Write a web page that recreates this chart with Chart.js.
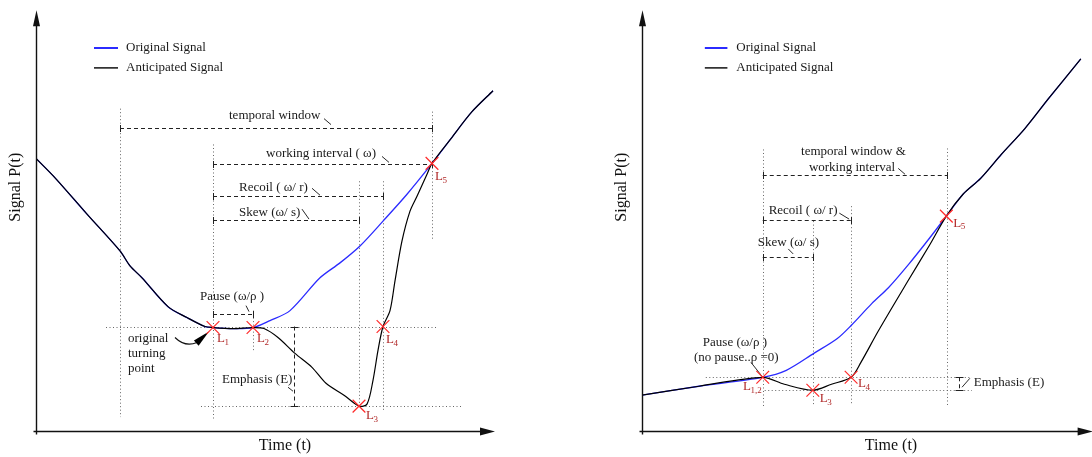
<!DOCTYPE html>
<html><head><meta charset="utf-8">
<script src="https://cdn.jsdelivr.net/npm/chart.js@4.4.0/dist/chart.umd.min.js"></script>
<style>
html,body{margin:0;padding:0;background:#fff;}
#wrap{display:flex;width:1092px;height:457px;}
.box{position:relative;width:546px;height:457px;}
</style></head><body>
<div id="wrap"><div class="box"><canvas id="c1"></canvas></div><div class="box"><canvas id="c2"></canvas></div></div>
<script>
// ---------- LEFT DIAGRAM DATA (time t, signal P) ----------
const leftOrigT = [0,1.95,5.1,8.4,9.4,10.6,13.2,15.1,16.9,17.7,19.7,21.7,23.4,25.4,28.4,30.4,32.4,34.7,37.1,39.6,41.5,43.6,45.7];
const leftOrigP = [27.4,25.4,21.8,18.1,16.6,15.4,12.5,11.4,10.5,10.4,10.3,10.4,11.1,12.1,15.4,16.9,18.6,21.1,23.8,26.9,29.4,32.1,34.2];
const leftAntT  = [0,1.95,5.1,8.4,9.4,10.6,13.2,15.1,16.9,17.7,19.7,21.7,22.8,24.2,25.9,27.6,29.0,30.8,32.3,33.1,33.7,34.2,34.7,35.4,35.9,36.6,37.4,38.1,39.1,39.6,41.5,43.6,45.7];
const leftAntP  = [27.4,25.4,21.8,18.1,16.6,15.4,12.5,11.4,10.5,10.4,10.3,10.4,10.3,9.4,7.8,6.4,4.8,3.6,2.5,2.7,5.1,8.1,10.5,12.1,15.1,19.1,22.1,23.6,25.8,26.9,29.4,32.1,34.2];
const leftMarkT = [17.7,21.7,32.3,34.7,39.6];
const leftMarkP = [10.4,10.4,2.5,10.5,26.9];
const leftMarkNames = ['1','2','3','4','5'];
const leftMarkLabelT = [18.1,22.1,33.0,35.0,39.9];
const leftMarkLabelP = [9.3,9.3,1.5,9.2,25.6];

// ---------- RIGHT DIAGRAM DATA ----------
const rightOrigT = [0,5.8,12.3,14.7,17.5,19.9,21.3,23.4,25.1,27.2,29.3,31.0,32.7,34.5,36.6,39.0,41.4,44.7];
const rightOrigP = [3.6,4.5,5.4,6.1,7.8,9.3,10.6,12.8,14.4,16.8,19.4,21.6,23.8,25.4,27.8,30.4,33.4,37.4];
const rightAntT  = [0,5.8,12.3,14.5,17.4,19.3,21.3,22.3,24.1,27.1,29.3,31.0,32.7,34.5,36.6,39.0,41.4,44.7];
const rightAntP  = [3.6,4.5,5.4,4.7,4.1,4.7,5.4,6.9,10.1,15.1,18.7,21.6,23.8,25.4,27.8,30.4,33.4,37.4];
const rightMarkT = [12.3,17.4,21.3,31.0];
const rightMarkP = [5.4,4.1,5.4,21.6];
const rightMarkNames = ['1,2','3','4','5'];
const rightMarkLabelT = [10.3,18.1,22.0,31.7];
const rightMarkLabelP = [4.5,3.3,4.8,20.9];

const legendLabels = ['Original Signal','Anticipated Signal'];

// annotation geometry (data units)
const leftAnn = {
  xMax:45.9, yMax:42.3, axisEnd:[45.9,42.3],
  legend:[5.8,8.2,9.0,38.5,36.5],
  vDots:[[8.4,32.4,1.4],[17.7,28.8,1.1],[21.7,12.1,8.1],[32.3,25.1,2.4],[34.7,25.1,2.1],[39.6,32.1,19.3]],
  hDots:[[10.5,7.0,40.1],[2.5,16.5,42.7]],
  spans:[[30.5,8.4,39.6],[26.8,17.7,39.6],[23.6,17.7,34.7],[21.2,17.7,32.3],[11.8,17.7,21.7]],
  vSpans:[[25.8,10.5,2.5]],
  leaders:[[28.8,31.4,29.5,30.8],[34.6,27.6,35.3,27.0],[27.6,24.4,28.4,23.7],[26.6,22.3,27.3,21.3],[21.0,12.6,21.3,12.0],[25.2,4.4,25.7,4.0]],
  notes:[['temporal window',19.3,31.7],['working interval ( ω)',23.0,27.9],['Recoil ( ω/ r)',20.3,24.5],['Skew (ω/ s)',20.3,22.0],['Pause (ω/ρ )',16.4,13.5],['Emphasis (E)',18.6,5.2],['original',9.2,9.3],['turning',9.2,7.8],['point',9.2,6.3]],
  arrow:[13.9,9.4,14.9,8.4,16.1,8.9,17.3,10.0]
};
const rightAnn = {
  xMax:44.8, yMax:42.3, axisEnd:[45.9,42.3],
  legend:[6.4,8.7,9.6,38.5,36.5],
  vDots:[[12.3,28.3,2.4],[17.4,21.1,2.6],[21.3,22.6,2.6],[31.1,28.4,2.4]],
  hDots:[[5.4,6.5,33.6],[4.1,12.5,33.6]],
  spans:[[25.7,12.3,31.1],[21.2,12.3,21.3],[17.5,12.3,17.4]],
  vSpans:[[32.3,5.4,4.1]],
  leaders:[[26.1,26.4,26.8,25.8],[20.1,21.9,21.1,21.3],[14.9,18.3,15.4,17.8],[32.6,4.4,33.4,5.3],[11.1,6.9,12.3,5.4]],
  notes:[['temporal window &',16.2,28.1],['working interval',17.0,26.5],['Recoil ( ω/ r)',12.9,22.2],['Skew (ω/ s)',11.8,18.9],['Pause (ω/ρ )',6.2,8.9],['(no pause..ρ =0)',5.3,7.4],['Emphasis (E)',33.8,4.9]],
  arrow:null
};

const SERIF = '"Liberation Serif","DejaVu Serif",serif';

function pts(ts, ps){ return ts.map((t,i)=>({x:t,y:ps[i]})); }

const diagram = {
  id:'diagram',
  beforeDatasetsDraw(chart, _a, o){
    const ctx = chart.ctx, sx = chart.scales.x, sy = chart.scales.y;
    const X = v=>sx.getPixelForValue(v), Y = v=>sy.getPixelForValue(v);
    const r = v=>Math.round(v)+0.5;
    const seg=(a,b,c,d)=>{ctx.beginPath();ctx.moveTo(a,b);ctx.lineTo(c,d);ctx.stroke();};
    ctx.save();
    ctx.lineWidth=1; ctx.strokeStyle='#666'; ctx.setLineDash([1,2.5]);
    o.vDots.forEach(([t,a,b])=>seg(r(X(t)),Y(a),r(X(t)),Y(b)));
    o.hDots.forEach(([p,a,b])=>seg(X(a),r(Y(p)),X(b),r(Y(p))));
    ctx.strokeStyle='#222';
    o.spans.forEach(([p,a,b])=>{
      const yy=r(Y(p));
      ctx.setLineDash([4,3]); seg(X(a),yy,X(b),yy);
      ctx.setLineDash([]); seg(r(X(a)),yy-3.5,r(X(a)),yy+3.5); seg(r(X(b)),yy-3.5,r(X(b)),yy+3.5);
    });
    o.vSpans.forEach(([t,a,b])=>{
      const xx=r(X(t));
      ctx.setLineDash([4,3]); seg(xx,Y(a),xx,Y(b));
      ctx.setLineDash([]); seg(xx-4,r(Y(a)),xx+4,r(Y(a))); seg(xx-4,r(Y(b)),xx+4,r(Y(b)));
    });
    ctx.setLineDash([]); ctx.lineWidth=0.9; ctx.strokeStyle='#111';
    o.leaders.forEach(([a,b,c,d])=>seg(X(a),Y(b),X(c),Y(d)));
    if(o.arrow){
      const [s1,s2,c1,c2,e1,e2,t1,t2]=o.arrow;
      ctx.lineWidth=1.1;
      ctx.beginPath(); ctx.moveTo(X(s1),Y(s2)); ctx.quadraticCurveTo(X(c1),Y(c2),X(e1),Y(e2)); ctx.stroke();
      const ex=X(e1), ey=Y(e2), tx=X(t1), ty=Y(t2);
      const ang=Math.atan2(ty-ey,tx-ex), w=3.5;
      const bx=ex-Math.cos(ang)*1, by=ey-Math.sin(ang)*1;
      ctx.fillStyle='#000';
      ctx.beginPath(); ctx.moveTo(tx,ty);
      ctx.lineTo(bx+Math.sin(ang)*w, by-Math.cos(ang)*w);
      ctx.lineTo(bx-Math.sin(ang)*w, by+Math.cos(ang)*w);
      ctx.closePath(); ctx.fill();
    }
    ctx.restore();
  },
  afterDatasetsDraw(chart, _a, o){
    const ctx = chart.ctx, sx = chart.scales.x, sy = chart.scales.y, A = chart.chartArea;
    const X = v=>sx.getPixelForValue(v), Y = v=>sy.getPixelForValue(v);
    const seg=(a,b,c,d)=>{ctx.beginPath();ctx.moveTo(a,b);ctx.lineTo(c,d);ctx.stroke();};
    ctx.save();
    // notes
    ctx.fillStyle='#1a1a1a'; ctx.font='13px '+SERIF; ctx.textBaseline='middle'; ctx.textAlign='left';
    o.notes.forEach(([s,t,p])=>ctx.fillText(s,X(t),Y(p)));
    // marker labels
    ctx.fillStyle='#b02828';
    o.markNames.forEach((n,i)=>{
      const x=X(o.markLabelT[i]), y=Y(o.markLabelP[i]);
      ctx.font='13px '+SERIF; ctx.fillText('L',x,y);
      const w=ctx.measureText('L').width;
      ctx.font='9px '+SERIF; ctx.fillText(n,x+w-0.5,y+4);
    });
    // legend
    const [l0,l1,lt,p0,p1]=o.legend;
    chart.data.datasets.slice(0,2).forEach((ds,i)=>{
      const yy=Y(i===0?p0:p1);
      ctx.strokeStyle=ds.borderColor; ctx.lineWidth=i===0?2:1.4;
      seg(X(l0),yy,X(l1),yy);
      ctx.fillStyle='#1a1a1a'; ctx.font='13px '+SERIF;
      ctx.fillText(ds.label,X(lt),yy);
    });
    // axes with arrows
    const L=Math.round(A.left)+0.5, B=Math.round(A.bottom)+0.5;
    const xt=X(o.axisEnd[0]), yt=Y(o.axisEnd[1]);
    ctx.strokeStyle='#111'; ctx.fillStyle='#111'; ctx.lineWidth=1.4;
    seg(L-3,B,xt-12,B); seg(L,B+3,L,yt+12);
    ctx.beginPath(); ctx.moveTo(xt,B); ctx.lineTo(xt-15,B-4); ctx.lineTo(xt-15,B+4); ctx.closePath(); ctx.fill();
    ctx.beginPath(); ctx.moveTo(L,yt); ctx.lineTo(L-3.5,yt+16); ctx.lineTo(L+3.5,yt+16); ctx.closePath(); ctx.fill();
    // axis titles
    ctx.fillStyle='#111'; ctx.font='16px '+SERIF; ctx.textAlign='center';
    ctx.fillText('Time (t)', A.left+249, A.bottom+15);
    ctx.translate(A.left-20, A.top+177); ctx.rotate(-Math.PI/2);
    ctx.fillText('Signal P(t)',0,0);
    ctx.restore();
  }
};

function makeChart(id, d){
  return new Chart(document.getElementById(id), {
    type:'scatter',
    data:{datasets:[
      {label:legendLabels[0], order:3, data:pts(d.origT,d.origP), showLine:true, borderColor:'#2b2bff', borderWidth:1.3, pointRadius:0, tension:0.3},
      {label:legendLabels[1], order:2, data:pts(d.antT,d.antP), showLine:true, borderColor:'#000000', borderWidth:1.2, pointRadius:0, tension:0.3},
      {label:'markers', order:1, data:pts(d.markT,d.markP), showLine:false, pointStyle:'crossRot', pointRadius:9, pointBorderColor:'#ff2a2a', pointBorderWidth:1.2, pointBackgroundColor:'rgba(0,0,0,0)'}
    ]},
    options:{
      responsive:true, maintainAspectRatio:false, animation:false, events:[],
      layout:{padding:d.pad},
      scales:{
        x:{type:'linear', min:0, max:d.ann.xMax, display:false},
        y:{type:'linear', min:0, max:d.ann.yMax, display:false}
      },
      plugins:{
        legend:{display:false}, tooltip:{enabled:false},
        diagram:Object.assign({}, d.ann, {markNames:d.markNames, markLabelT:d.markLT, markLabelP:d.markLP})
      }
    },
    plugins:[diagram]
  });
}

makeChart('c1', {origT:leftOrigT, origP:leftOrigP, antT:leftAntT, antP:leftAntP, markT:leftMarkT, markP:leftMarkP,
  markNames:leftMarkNames, markLT:leftMarkLabelT, markLP:leftMarkLabelP, ann:leftAnn, pad:{left:36,right:51,top:8,bottom:26}});
makeChart('c2', {origT:rightOrigT, origP:rightOrigP, antT:rightAntT, antP:rightAntP, markT:rightMarkT, markP:rightMarkP,
  markNames:rightMarkNames, markLT:rightMarkLabelT, markLP:rightMarkLabelP, ann:rightAnn, pad:{left:96,right:2,top:8,bottom:26}});
</script>
</body></html>
